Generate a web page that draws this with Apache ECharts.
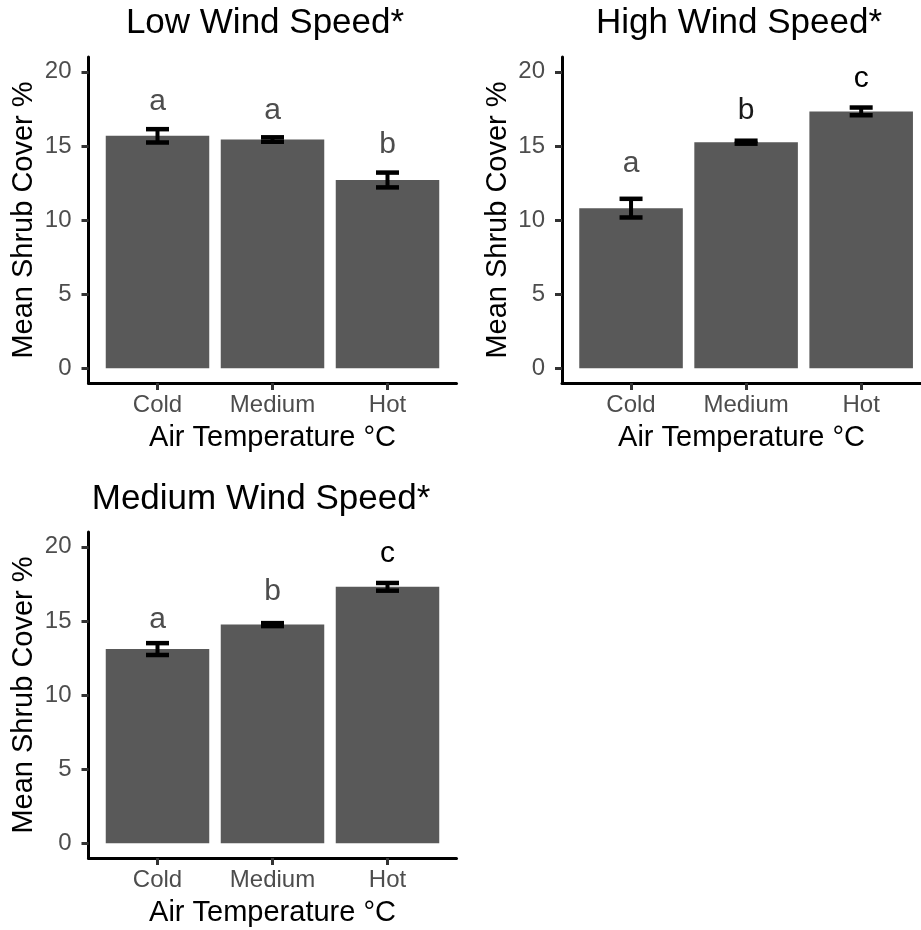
<!DOCTYPE html>
<html>
<head>
<meta charset="utf-8">
<script src="https://cdn.jsdelivr.net/npm/echarts@6/dist/echarts.min.js"></script>
<style>
  html, body { margin: 0; padding: 0; background: #fff; }
  #chart { width: 921px; height: 930px; }
</style>
</head>
<body>
<div id="chart"></div>
<script>
// categories + tick labels
const categories = ['Cold', 'Medium', 'Hot']
const yTicks = [0, 5, 10, 15, 20]

// low wind speed
const lowMean = [15.68, 15.43, 12.7]
const lowSe = [0.45, 0.15, 0.5]
const lowLetters = ['a', 'a', 'b']
const lowLetterAt = [18.0, 17.4, 15.1]

// high wind speed
const highMean = [10.8, 15.25, 17.33]
const highSe = [0.63, 0.1, 0.26]
const highLetters = ['a', 'b', 'c']
const highLetterAt = [13.8, 17.4, 19.5]

// medium wind speed
const medMean = [13.1, 14.75, 17.3]
const medSe = [0.4, 0.1, 0.26]
const medLetters = ['a', 'b', 'c']
const medLetterAt = [15.1, 17.0, 19.5]

const FONT = '"Liberation Sans", Arial, sans-serif'
const GREY_TXT = '#4d4d4d'

// the right panel runs past the edge of the image, so its x range is cut at the canvas edge
const panels = [
    { title: 'Low Wind Speed*', titleX: 265, titleY: 6, left: 88.5, top: 57, width: 368, xMax: 3.6,
      mean: lowMean, se: lowSe, letters: lowLetters, letterAt: lowLetterAt,
      letterColor: [GREY_TXT, GREY_TXT, GREY_TXT] },
    { title: 'High Wind Speed*', titleX: 739, titleY: 6, left: 562, top: 57, width: 359, xMax: 3.52,
      mean: highMean, se: highSe, letters: highLetters, letterAt: highLetterAt,
      letterColor: [GREY_TXT, '#1a1a1a', '#000'] },
    { title: 'Medium Wind Speed*', titleX: 261, titleY: 482, left: 88.5, top: 532, width: 368, xMax: 3.6,
      mean: medMean, se: medSe, letters: medLetters, letterAt: medLetterAt,
      letterColor: [GREY_TXT, GREY_TXT, '#000'] }
]

function renderBar(params, api) {
    const x = api.value(0)
    const top = api.coord([x, api.value(1)])
    const base = api.coord([x, 0])
    const w = api.size([0.9, 0])[0]
    return {
        type: 'rect',
        shape: { x: top[0] - w / 2, y: top[1], width: w, height: base[1] - top[1] },
        style: { fill: '#595959' }
    }
}

function renderErr(params, api) {
    const x = api.value(0)
    const m = api.value(1)
    const se = api.value(2)
    const hi = api.coord([x, m + se])
    const lo = api.coord([x, m - se])
    const half = api.size([0.2, 0])[0] / 2
    const st = { stroke: '#000', lineWidth: 4.5 }
    return {
        type: 'group',
        children: [
            { type: 'line', shape: { x1: hi[0], y1: hi[1], x2: lo[0], y2: lo[1] }, style: { stroke: '#000', lineWidth: 4 } },
            { type: 'line', shape: { x1: hi[0] - half, y1: hi[1], x2: hi[0] + half, y2: hi[1] }, style: st },
            { type: 'line', shape: { x1: lo[0] - half, y1: lo[1], x2: lo[0] + half, y2: lo[1] }, style: st }
        ]
    }
}

function letterRenderer(p) {
    return function (params, api) {
        const pt = api.coord([api.value(0), api.value(1)])
        return {
            type: 'text',
            style: {
                text: p.letters[params.dataIndex],
                x: pt[0], y: pt[1],
                align: 'center', verticalAlign: 'middle',
                font: '30px ' + FONT,
                fill: p.letterColor[params.dataIndex]
            }
        }
    }
}

const option = {
    animation: false,
    backgroundColor: '#fff',
    title: [],
    grid: [],
    xAxis: [],
    yAxis: [],
    series: []
}

panels.forEach((p, i) => {
    option.title.push({
        text: p.title,
        left: p.titleX, top: p.titleY,
        textAlign: 'center',
        padding: 0,
        textStyle: { fontFamily: FONT, fontSize: 35, fontWeight: 'normal', color: '#000' }
    })
    option.grid.push({ left: p.left, top: p.top, width: p.width, height: 326 })
    option.xAxis.push({
        type: 'value', gridIndex: i,
        min: 0.4, max: p.xMax,
        name: 'Air Temperature °C',
        nameLocation: 'middle', nameGap: 40,
        nameTextStyle: { fontFamily: FONT, fontSize: 29, color: '#000' },
        axisLine: { onZero: false, lineStyle: { color: '#000', width: 3 } },
        axisTick: { customValues: [1, 2, 3], length: 7, lineStyle: { color: '#333', width: 3 } },
        axisLabel: {
            customValues: [1, 2, 3],
            formatter: v => categories[Math.round(v) - 1],
            margin: 10, fontFamily: FONT, fontSize: 24, color: GREY_TXT
        },
        splitLine: { show: false }
    })
    option.yAxis.push({
        type: 'value', gridIndex: i,
        min: -1, max: 21,
        name: 'Mean Shrub Cover %',
        nameLocation: 'middle', nameGap: 50, nameRotate: 90,
        nameTextStyle: { fontFamily: FONT, fontSize: 29, color: '#000' },
        axisLine: { show: true, onZero: false, lineStyle: { color: '#000', width: 3 } },
        axisTick: { show: true, customValues: yTicks, length: 7, lineStyle: { color: '#333', width: 3 } },
        axisLabel: { customValues: yTicks, margin: 17, fontFamily: FONT, fontSize: 24, color: GREY_TXT },
        splitLine: { show: false }
    })

    const barData = p.mean.map((m, k) => [k + 1, m, p.se[k]])
    option.series.push({
        type: 'custom', xAxisIndex: i, yAxisIndex: i,
        renderItem: renderBar, data: barData, z: 2
    })
    option.series.push({
        type: 'custom', xAxisIndex: i, yAxisIndex: i,
        renderItem: renderErr, data: barData, z: 3
    })
    option.series.push({
        type: 'custom', xAxisIndex: i, yAxisIndex: i,
        renderItem: letterRenderer(p),
        data: p.letterAt.map((v, k) => [k + 1, v]), z: 4
    })
})

const chart = echarts.init(document.getElementById('chart'), null, { renderer: 'canvas' })
chart.setOption(option)
</script>
</body>
</html>
